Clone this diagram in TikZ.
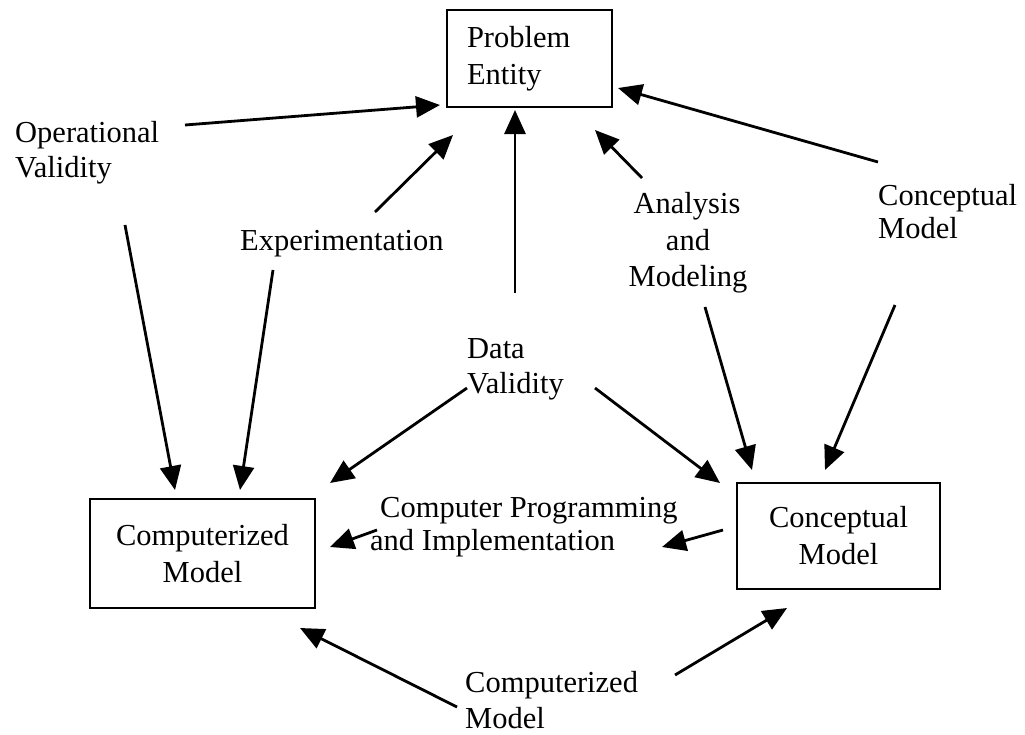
\documentclass[tikz,border=0pt]{standalone}
\usepackage{fontspec}
\setmainfont{Liberation Serif}
\usetikzlibrary{arrows.meta}
\tikzset{
  lbl/.style={inner sep=0pt, font=\fontsize{30.5}{36}\selectfont},
  boxnode/.style={draw, line width=2.4pt, inner sep=0pt, font=\fontsize{30.5}{37}\selectfont},
  conn/.style={line width=2.8pt, -{Triangle[length=24pt,width=21pt]}}
}
\begin{document}
\begin{tikzpicture}[x=1pt,y=-1pt]
\useasboundingbox (0,0) rectangle (1025,734);
% boxes
\node[boxnode, minimum width=165pt, minimum height=97pt, text width=125pt, align=left] (pe) at (529.5,58.5) {Problem\\Entity};
\node[boxnode, minimum width=225pt, minimum height=109pt, align=center] (cm) at (202.5,553.5) {Computerized\\Model};
\node[boxnode, minimum width=203pt, minimum height=106pt, align=center] (cpt) at (838.5,536) {Conceptual\\Model};
% labels
\node[lbl, anchor=base west] (opv1) at (15,142) {Operational};
\node[lbl, anchor=base west] (opv2) at (15,177) {Validity};
\node[lbl, anchor=base west] (exp) at (240,250) {Experimentation};
\node[lbl, anchor=base west] (dv1) at (467,358) {Data};
\node[lbl, anchor=base west] (dv2) at (467,393) {Validity};
\node[lbl, anchor=base] (am1) at (687,213) {Analysis};
\node[lbl, anchor=base] (am2) at (688,250) {and};
\node[lbl, anchor=base] (am3) at (688,286) {Modeling};
\node[lbl, anchor=base west] (cl1) at (878,205) {Conceptual};
\node[lbl, anchor=base west] (cl2) at (878,238) {Model};
\node[lbl, anchor=base west] (cp1) at (380,517) {Computer Programming};
\node[lbl, anchor=base west] (cp2) at (370,550) {and Implementation};
\node[lbl, anchor=base west] (ml1) at (465,692) {Computerized};
\node[lbl, anchor=base west] (ml2) at (465,728) {Model};
% arrow end points
\coordinate (a1s) at (185,125);  \coordinate (a1e) at (440,105);
\coordinate (a2s) at (375,212);  \coordinate (a2e) at (453,135);
\coordinate (a3s) at (515,293);  \coordinate (a3e) at (515,110);
\coordinate (a4s) at (642,178);  \coordinate (a4e) at (595,130);
\coordinate (a5s) at (878,162);  \coordinate (a5e) at (618,88);
\coordinate (a6s) at (125,225);  \coordinate (a6e) at (175,490);
\coordinate (a7s) at (273,270);  \coordinate (a7e) at (240,490);
\coordinate (a8s) at (467,388);  \coordinate (a8e) at (330,483);
\coordinate (a9s) at (595,388);  \coordinate (a9e) at (720,483);
\coordinate (a10s) at (705,307); \coordinate (a10e) at (752,470);
\coordinate (a11s) at (895,305); \coordinate (a11e) at (825,470);
\coordinate (a12s) at (377,530); \coordinate (a12e) at (330,547);
\coordinate (a13s) at (723,530); \coordinate (a13e) at (662,547);
\coordinate (a14s) at (457,707); \coordinate (a14e) at (300,628);
\coordinate (a15s) at (675,675); \coordinate (a15e) at (787,608);
\foreach \i in {1,...,15} \draw[conn] (a\i s) -- (a\i e);
\end{tikzpicture}
\end{document}
